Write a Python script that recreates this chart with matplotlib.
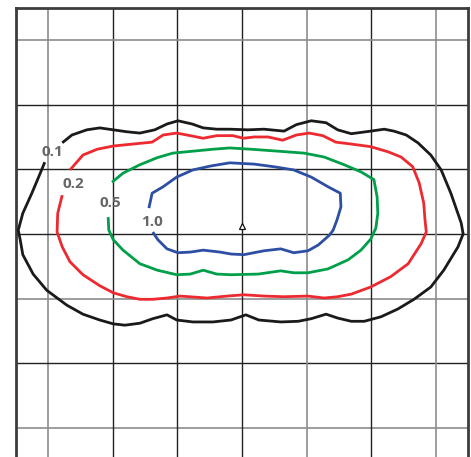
"""Isolux-style contour diagram (0.1 / 0.2 / 0.5 / 1.0 levels) on a square grid."""

import matplotlib
matplotlib.use("Agg")
import matplotlib.pyplot as plt

# contour outlines in grid units (one grid cell = 1)
levels = ["0.1", "0.2", "0.5", "1.0"]
colors = ["#1a1a1a", "#ec2a2f", "#00a04a", "#2d4fa3"]

x_01 = [-2.78, -2.63, -2.40, -2.20, -1.99, -1.78, -1.58, -1.35, -1.16, -0.99,
        -0.77, -0.60, -0.39, -0.19, 0.09, 0.34, 0.65, 0.84, 1.07, 1.30, 1.48,
        1.69, 1.99, 2.20, 2.35, 2.54, 2.72, 2.92, 3.08, 3.23, 3.39, 3.42, 3.34,
        3.12, 2.92, 2.66, 2.41, 2.15, 1.89, 1.69, 1.48, 1.30, 1.07, 0.87, 0.60,
        0.26, 0.06, -0.17, -0.45, -0.76, -1.01, -1.16, -1.38, -1.58, -1.81,
        -1.99, -2.20, -2.46, -2.71, -3.02, -3.23, -3.39, -3.43, -3.46, -3.39,
        -3.25, -3.12, -3.05]
y_01 = [1.41, 1.53, 1.61, 1.64, 1.61, 1.58, 1.56, 1.61, 1.70, 1.75, 1.70, 1.64,
        1.62, 1.62, 1.61, 1.62, 1.59, 1.69, 1.75, 1.72, 1.61, 1.55, 1.59, 1.62,
        1.59, 1.53, 1.41, 1.22, 0.99, 0.63, 0.17, 0.00, -0.20, -0.56, -0.82,
        -1.01, -1.16, -1.28, -1.35, -1.35, -1.30, -1.24, -1.31, -1.35, -1.36,
        -1.33, -1.25, -1.33, -1.36, -1.36, -1.33, -1.25, -1.31, -1.38, -1.41,
        -1.39, -1.33, -1.24, -1.10, -0.87, -0.62, -0.32, -0.09, 0.06, 0.32,
        0.63, 0.94, 1.11]

x_02 = [-2.66, -2.46, -2.24, -1.99, -1.69, -1.39, -1.22, -1.01, -0.80, -0.60,
        -0.39, -0.14, 0.02, 0.19, 0.40, 0.63, 0.84, 1.04, 1.25, 1.45, 1.69,
        1.99, 2.26, 2.46, 2.64, 2.74, 2.81, 2.83, 2.85, 2.77, 2.57, 2.30, 1.99,
        1.69, 1.48, 1.27, 1.02, 0.65, 0.34, 0.03, -0.23, -0.54, -0.96, -1.16,
        -1.38, -1.58, -1.78, -1.99, -2.20, -2.46, -2.66, -2.78, -2.86, -2.85,
        -2.78]
y_02 = [0.99, 1.22, 1.31, 1.36, 1.39, 1.42, 1.53, 1.56, 1.52, 1.48, 1.52, 1.52,
        1.48, 1.50, 1.50, 1.45, 1.53, 1.56, 1.52, 1.42, 1.39, 1.35, 1.27, 1.19,
        1.04, 0.79, 0.48, 0.22, 0.03, -0.15, -0.46, -0.66, -0.82, -0.93, -0.97,
        -0.99, -0.96, -0.97, -0.96, -0.94, -0.96, -0.99, -0.96, -0.99, -1.01,
        -1.01, -0.97, -0.91, -0.80, -0.63, -0.43, -0.20, 0.03, 0.32, 0.60]

x_05 = [-2.01, -1.84, -1.58, -1.31, -1.07, -0.76, -0.45, -0.19, 0.14, 0.56,
        0.96, 1.27, 1.58, 1.84, 2.04, 2.09, 2.10, 2.07, 1.99, 1.84, 1.64, 1.33,
        1.02, 0.80, 0.60, 0.25, -0.17, -0.39, -0.60, -0.80, -1.01, -1.31,
        -1.58, -1.84, -1.99, -2.06, -2.07]
y_05 = [0.80, 0.94, 1.07, 1.18, 1.25, 1.28, 1.31, 1.33, 1.31, 1.28, 1.25, 1.19,
        1.07, 0.96, 0.84, 0.57, 0.32, 0.09, -0.08, -0.25, -0.40, -0.54, -0.60,
        -0.60, -0.57, -0.62, -0.63, -0.62, -0.56, -0.62, -0.63, -0.56, -0.46,
        -0.25, -0.09, 0.06, 0.26]

x_10 = [-1.44, -1.39, -1.22, -1.01, -0.76, -0.49, -0.19, 0.19, 0.49, 0.80,
        1.07, 1.33, 1.52, 1.53, 1.47, 1.41, 1.35, 1.18, 1.02, 0.80, 0.60, 0.34,
        0.03, -0.17, -0.34, -0.60, -0.80, -0.99, -1.16, -1.30, -1.38]
y_10 = [0.40, 0.63, 0.73, 0.88, 0.99, 1.05, 1.10, 1.08, 1.04, 0.99, 0.88, 0.73,
        0.63, 0.42, 0.22, 0.06, -0.02, -0.17, -0.26, -0.29, -0.23, -0.26,
        -0.32, -0.31, -0.28, -0.25, -0.28, -0.29, -0.23, -0.09, 0.03]

label_x = [-2.94, -2.61, -2.03, -1.39]
label_y = [1.27, 0.77, 0.48, 0.19]

grid_pos = [-3, -2, -1, 0, 1, 2, 3]
light_x = [-3, 1, 3]
light_y = [3, -1, -3]

fig = plt.figure(figsize=(4.71, 4.57), dpi=100)
ax = fig.add_axes([0.0333, 0.0, 0.961, 0.9834])
ax.set_xlim(-3.5, 3.5)
ax.set_ylim(-3.448, 3.5)

for g in grid_pos:
    ax.axvline(g, color="#8c8c8c" if g in light_x else "#222222",
               lw=1.2 if g in light_x else 1.0, zorder=1)
    ax.axhline(g, color="#8c8c8c" if g in light_y else "#222222",
               lw=1.2 if g in light_y else 1.0, zorder=1)

curves = [(x_01, y_01), (x_02, y_02), (x_05, y_05), (x_10, y_10)]
for (xs, ys), c in zip(curves, colors):
    ax.plot(xs, ys, color=c, lw=2.0, solid_joinstyle="round",
            solid_capstyle="butt", zorder=3)

for lab, lx, ly in zip(levels, label_x, label_y):
    ax.text(lx, ly, lab, ha="center", va="center", color="#666666",
            fontsize=11, fontweight="bold", family=["Open Sans", "DejaVu Sans"],
            zorder=4)

# small luminaire marker at the origin
ax.plot([0], [0.12], marker="^", ms=5, mfc="white", mec="#111111", mew=0.9,
        zorder=4)

for side in ["left", "top", "right"]:
    ax.spines[side].set_color("#3c3c3c")
    ax.spines[side].set_linewidth(2.0)
ax.spines["bottom"].set_visible(False)
ax.set_xticks([])
ax.set_yticks([])

fig.savefig("out.png", dpi=100)
